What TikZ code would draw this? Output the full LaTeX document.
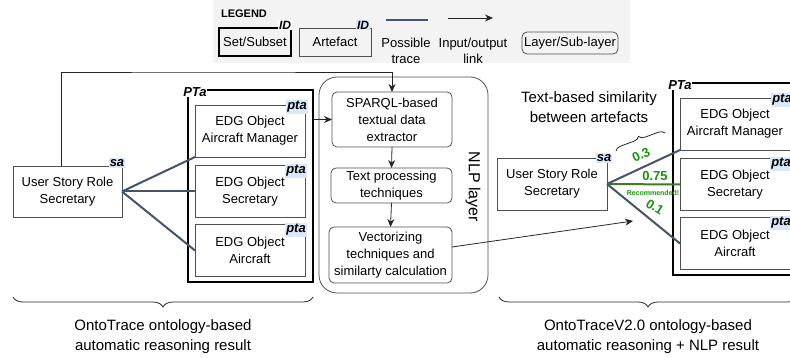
\documentclass[tikz,border=0pt]{standalone}
\usepackage{fontspec}
\setmainfont{Liberation Sans}
\usetikzlibrary{arrows.meta,decorations.pathreplacing}
\definecolor{slate}{RGB}{68,84,106}
\definecolor{boxgray}{RGB}{80,80,80}
\definecolor{lblue}{RGB}{218,232,252}
\definecolor{leggray}{RGB}{243,243,243}
\definecolor{gtext}{RGB}{20,150,10}
\definecolor{gline}{RGB}{60,125,30}
\newcommand\myfs[2]{\fontsize{#1}{#2}\selectfont}
\begin{document}
\begin{tikzpicture}[x=1pt,y=-1pt,
  box/.style={draw=boxgray, line width=0.8pt, minimum width=110pt, minimum height=52pt,
    align=center, inner sep=1pt, outer sep=0pt, font=\myfs{13}{17}},
  setbox/.style={draw=black, line width=1.6pt, outer sep=0pt, inner sep=0pt},
  rbox/.style={draw=boxgray, line width=0.8pt, rounded corners=5pt, align=center,
    inner sep=1pt, outer sep=0pt, font=\myfs{13}{17}},
  idlab/.style={fill=lblue, inner sep=1.2pt, font=\myfs{13}{13}\bfseries\itshape},
  setlab/.style={fill=white, inner sep=0.8pt, font=\myfs{13}{13}\bfseries\itshape},
  trace/.style={draw=slate, line width=2pt},
  link/.style={draw=black!85, line width=0.8pt, -{Stealth[length=8pt,width=7pt]}},
  plain/.style={draw=black!85, line width=0.8pt},
  txt/.style={align=center, inner sep=0pt},
  glab/.style={text=gtext, font=\myfs{13}{13}\bfseries, inner sep=0pt}
]
\useasboundingbox (0,0) rectangle (790,358);
\clip (0,0) rectangle (790,358);

% ---------------- legend ----------------
\fill[leggray] (213,0) rectangle (630,63);
\node[txt, font=\myfs{11}{11}\bfseries] (legtitle) at (244,14) {LEGEND};
\node[setbox, minimum width=72pt, minimum height=28pt, font=\myfs{13}{16}] (legset) at (255,42) {Set/Subset};
\node[setlab, font=\myfs{12}{12}\bfseries\itshape] (legsetid) at (285,25) {ID};
\node[box, minimum width=72pt, minimum height=28pt] (legart) at (335,42) {Artefact};
\node[idlab, font=\myfs{12}{12}\bfseries\itshape] (legartid) at (363,25) {ID};
\coordinate (lt1) at (386,20);
\coordinate (lt2) at (428,20);
\draw[trace] (lt1) -- (lt2);
\node[txt, font=\myfs{13}{16}] (legtrace) at (406,51) {Possible\\trace};
\coordinate (la1) at (448,18);
\coordinate (la2) at (493,18);
\draw[link] (la1) -- (la2);
\node[txt, font=\myfs{13}{16}] (leglink) at (473,51) {Input/output\\link};
\node[rbox, minimum width=96pt, minimum height=22pt] (leglayer) at (570,43) {Layer/Sub-layer};

% ---------------- left side ----------------
\node[setbox, minimum width=125pt, minimum height=192pt] (PTaL) at (250.5,186) {};
\node[setlab] (PTaLlab) at (195,92) {PTa};
\node[box] (b1L) at (250,131) {EDG Object\\Aircraft Manager};
\node[box] (b2L) at (250,191.5) {EDG Object\\Secretary};
\node[box] (b3L) at (250,250.5) {EDG Object\\Aircraft};
\node[idlab] (p1L) at (297,107) {pta};
\node[idlab] (p2L) at (296,171) {pta};
\node[idlab] (p3L) at (296,230) {pta};
\node[box, minimum width=109pt, minimum height=51pt] (saL) at (67.5,191.5) {User Story Role\\Secretary};
\node[idlab] (saLlab) at (117,163) {sa};

\draw[trace] (saL.east) -- (b1L.south west);
\draw[trace] (saL.east) -- (b2L.west);
\draw[trace] (saL.east) -- (b3L.west);

% ---------------- NLP layer ----------------
\node[draw=boxgray, line width=0.8pt, rounded corners=18pt, minimum width=169pt,
  minimum height=216pt, outer sep=0pt] (nlp) at (403.5,185) {};
\node[txt, rotate=-90, font=\myfs{16}{16}] (nlplab) at (473,187) {NLP layer};
\node[rbox, minimum width=120pt, minimum height=55pt] (sparql) at (392,119.5) {SPARQL-based\\textual data\\extractor};
\node[rbox, minimum width=121pt, minimum height=35pt] (textproc) at (391.5,185.5) {Text processing\\techniques};
\node[rbox, minimum width=123pt, minimum height=56pt] (vect) at (390.5,255) {Vectorizing\\techniques and\\similarty calculation};

\coordinate (topY) at (200,72);
\draw[link] ([xshift=-6.5pt]saL.north) |- (topY) -| (sparql.north);
\draw[link] (PTaL.east |- sparql.west) -- (sparql.west);
\draw[link] (sparql.south) -- (textproc.north);
\draw[link] (textproc.south) -- (vect.north);
\coordinate (vecEnd) at (633,221);
\draw[link] ([yshift=8pt]vect.east) -- (vecEnd);

% ---------------- right side ----------------
\node[setbox, minimum width=125pt, minimum height=192pt] (PTaR) at (735.5,179) {};
\node[setlab] (PTaRlab) at (680,85) {PTa};
\node[box] (b1R) at (735,124) {EDG Object\\Aircraft Manager};
\node[box] (b2R) at (735,184.5) {EDG Object\\Secretary};
\node[box] (b3R) at (735,243.5) {EDG Object\\Aircraft};
\node[idlab] (p1R) at (782,100) {pta};
\node[idlab] (p2R) at (781,164) {pta};
\node[idlab] (p3R) at (781,223) {pta};
\node[box] (saR) at (552,184) {User Story Role\\Secretary};
\node[idlab] (saRlab) at (604,158) {sa};

\draw[trace] (saR.east) -- (b1R.south west);
\draw[gline, line width=2pt] (saR.east) -- (b2R.west);
\draw[trace] (saR.east) -- (b3R.west);

\node[glab, rotate=26] (g03) at (641,155) {0.3};
\node[glab] (g075) at (655,176) {0.75};
\node[glab, font=\myfs{7}{7}\bfseries] (grec) at (653,192.5) {Recommended!};
\node[glab, rotate=-32] (g01) at (655,207) {0.1};

\node[txt, font=\myfs{15}{20}] (simtxt) at (589,107) {Text-based similarity\\between artefacts};
\coordinate (br1) at (616,151);
\coordinate (br2) at (665,133);
\draw[plain, decorate, decoration={brace, amplitude=6pt}] (br1) -- (br2);

% ---------------- bottom braces ----------------
\coordinate (bl1) at (13,297);
\coordinate (bl2) at (313,297);
\draw[plain, decorate, decoration={brace, mirror, amplitude=10pt}] (bl1) -- (bl2);
\node[txt, font=\myfs{15}{20}] (resL) at (163,337) {OntoTrace ontology-based\\automatic reasoning result};
\coordinate (br3) at (499,297);
\coordinate (br4) at (797,297);
\draw[plain, decorate, decoration={brace, mirror, amplitude=10pt}] (br3) -- (br4);
\node[txt, font=\myfs{15}{20}] (resR) at (648,337) {OntoTraceV2.0 ontology-based\\automatic reasoning + NLP result};
\end{tikzpicture}
\end{document}
